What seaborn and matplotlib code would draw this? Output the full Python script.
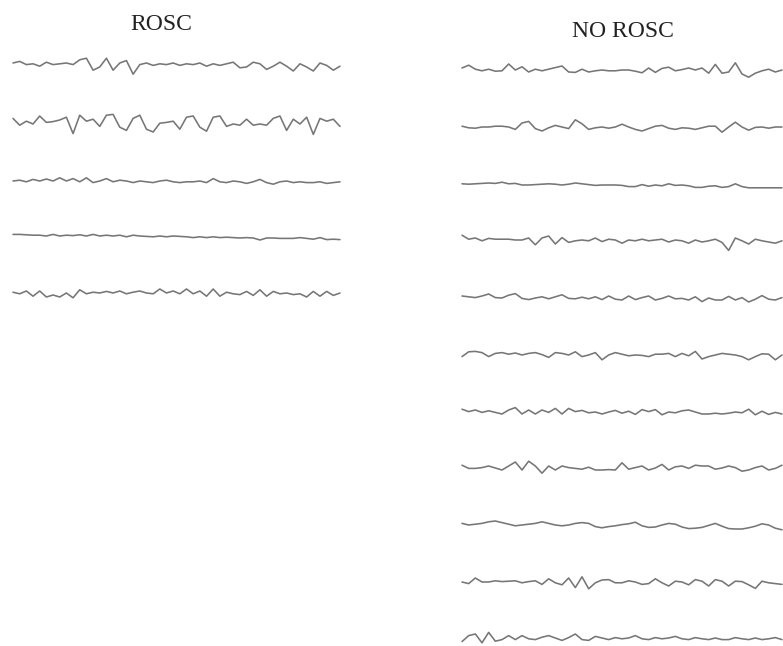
import numpy as np
import pandas as pd
import matplotlib
matplotlib.use("Agg")
import matplotlib.pyplot as plt
import seaborn as sns

rosc_1 = [5, 9, 1, 3, -3, 7, 1, 3, 5, 1, 13, 17, -13, -5, 17, -13, 5, 11, -23, 1, 5, -1, 3, 1, 5,
          -1, 3, 1, 5, -3, 3, -1, 3, 7, -7, -5, 7, 3, -11, -3, 7, -3, -15, 3, -5, -15, 5, -1, -13, -3]
rosc_2 = [14, -3, 7, 0, 20, 4, 6, 10, 17, -24, 22, 7, 12, -6, 22, 24, -8, -16, 14, 22, -13, -20, 2, 4, 7,
          -13, 17, 20, -8, -18, 17, 20, -6, 0, -3, 12, -3, 0, -3, 14, 20, -16, 12, 0, 17, -26, 14, 7, 12, -6]
rosc_3 = [0, 2, -2, 4, 0, 5, 0, 8, 0, 6, -2, 8, -4, 0, 6, -2, 2, 0, -4, 0, -2, -4, 0, 2, -2,
          -4, -2, -2, 0, -4, 6, -2, -4, 0, -2, -6, -2, 4, -4, -8, -2, 0, -4, -2, -4, -4, -2, -6, -4, -2]
rosc_4 = [4, 4, 3, 2, 2, 0, 4, 0, 2, 1, 3, 0, 4, 0, 2, 0, 2, -2, 2, 0, -1, -2, 0, -2, 0,
          -1, -2, -4, -2, -4, -2, -4, -3, -4, -5, -4, -5, -10, -5, -5, -6, -6, -6, -4, -6, -8, -4, -9, -8, -9]
rosc_5 = [2, -2, 5, -8, 5, -10, -5, -10, 0, -12, 8, -2, 2, 0, 4, 0, 5, -2, 2, 5, 0, -2, 10, 0, 5,
          -2, 10, -2, 5, -8, 10, -8, 2, -2, -4, 4, -6, 8, -8, 4, -2, 0, -4, -2, -10, 4, -8, 4, -6, 0]

norosc_1 = [5, 12, 2, -2, 2, -3, -2, 15, 0, 8, -5, 2, -2, 2, 6, 10, -5, -6, 2, -5, -2, 0, -2, -2, 0,
            0, -3, -7, 5, -6, 4, 7, -2, 1, 5, 0, 5, -8, 14, -8, -5, 18, -10, -18, -8, -2, 2, -5, 0]
norosc_2 = [2, -2, -3, 0, 0, 2, 2, 0, -6, 10, 14, -4, -10, -2, 4, 0, -4, 18, 8, -6, -2, 0, -3, 0, 7,
            0, -6, -10, -4, 2, 4, -3, -6, -2, -3, -6, -2, 2, 2, -13, 0, 12, 0, -8, -1, 0, -3, 0, 0]
norosc_3 = [3, 2, 3, 4, 5, 4, 7, 3, 4, 0, 0, 1, 2, 3, 2, 0, 2, 5, 3, 1, -1, 0, 0, 0, -1,
            -4, -4, 1, -3, 0, -2, 3, -1, 0, -2, -6, -6, -3, -2, -6, -4, 3, -4, -7, -7, -7, -7, -7, -7]
norosc_4 = [12, 2, 5, -2, 4, 2, 2, 2, 0, 0, 5, -12, 5, 10, -10, 6, -6, -2, 0, -2, 5, -4, 2, 0, -8,
            0, -2, 2, -2, 0, 2, -5, 0, -2, -8, 0, -5, -2, 2, -6, -26, 5, -2, -10, 2, -2, -5, -8, -2]
norosc_5 = [5, 3, 1, 5, 10, 1, 0, 7, 11, -1, -4, 0, 3, -2, 3, 8, -1, -2, 2, -2, 3, -4, 5, -3, -5,
            5, -4, 1, 5, -5, -1, 5, -2, -1, -5, 3, -9, 0, -5, -5, 4, -5, 1, -10, -3, 6, -3, -5, 1]
norosc_6 = [-4, 8, 9, 6, -4, 4, 6, 2, 5, 0, 4, 6, 1, -6, 6, 4, 0, 8, -4, 0, 6, -12, 0, 6, 2,
            -2, 0, -1, -4, 2, 2, 4, -4, 4, -2, 9, -10, -4, 0, 4, 2, 0, -4, -12, -4, 3, 2, -12, 0]
norosc_7 = [7, 1, 5, -1, 3, -1, -5, 5, 11, -5, 5, -5, 5, -1, 9, -5, 9, 1, 4, -2, 0, -5, 0, 4, -3,
            2, -6, 6, 1, 6, -7, 0, -2, 3, 5, 0, -5, -5, -3, -5, -3, 0, -2, 7, -7, 2, -6, -1, -5]
norosc_8 = [7, -1, -1, 1, 5, 0, -5, 5, 15, -5, 17, 5, -13, 5, -5, 5, 1, -1, -3, 2, -5, -5, -4, -5, 13,
            -3, 1, 5, -5, 0, 9, -5, 3, 5, -1, 7, 5, 5, -3, 0, 5, 1, -8, -5, 1, 5, -5, -1, 7]
norosc_9 = [4, 0, 2, 4, 8, 10, 6, 2, -2, 0, 2, 4, 8, 4, 0, -2, 0, 4, 6, 4, -4, -7, -4, -2, 1,
            3, 7, -2, -6, -5, 0, 4, 2, -5, -9, -8, -6, -1, 4, -3, -9, -10, -10, -7, -3, 3, 0, -8, -12]
norosc_10 = [0, -4, 10, 0, 0, 3, 1, 2, 3, -2, 1, 3, -6, 8, -2, -7, 10, -14, 13, -17, -2, 5, 6, -2, -2,
             3, 0, -6, -4, 8, -2, -10, 2, 0, -7, 6, 2, -10, 6, 2, -10, 2, 1, -7, -16, 2, -2, -4, -6]
norosc_11 = [-9, 6, 10, -12, 14, -8, -4, 6, -4, 6, -2, -4, 2, 6, 0, -6, 1, 10, -4, -6, 4, 0, -4, 1, -2,
             0, 6, -2, -4, 1, -2, 0, 4, -2, -4, 1, -2, -4, 0, -4, -4, 1, -2, -4, 0, -4, -2, 1, -4]

rosc = [rosc_1, rosc_2, rosc_3, rosc_4, rosc_5]
norosc = [norosc_1, norosc_2, norosc_3, norosc_4, norosc_5, norosc_6,
          norosc_7, norosc_8, norosc_9, norosc_10, norosc_11]

# layout in pixels of the 783x646 canvas
rosc_base = [65, 124, 181, 236, 293]
norosc_base = [70, 127, 185, 240, 298, 355, 412, 468, 525, 582, 638]
scale = 0.4

rows = []
for i, (vals, b) in enumerate(zip(rosc, rosc_base)):
    xs = np.linspace(13, 340, len(vals))
    for x, v in zip(xs, vals):
        rows.append(("R%d" % i, x, b - v * scale))
for i, (vals, b) in enumerate(zip(norosc, norosc_base)):
    xs = np.linspace(462, 782, len(vals))
    for x, v in zip(xs, vals):
        rows.append(("N%d" % i, x, b - v * scale))
df = pd.DataFrame(rows, columns=["trace", "x", "y"])

sns.set_style("white")
plt.rcParams['font.family'] = ['Liberation Serif', 'DejaVu Serif']

fig = plt.figure(figsize=(7.83, 6.46), dpi=100)
ax = fig.add_axes([0, 0, 1, 1])
n = df["trace"].nunique()
sns.lineplot(data=df, x="x", y="y", hue="trace", palette=["#767676"] * n,
             estimator=None, legend=False, linewidth=1.15, ax=ax)
ax.set_xlim(0, 783)
ax.set_ylim(646, 0)
ax.axis("off")

ax.text(161, 30, "ROSC", ha="center", va="baseline", fontsize=17, color="#222222")
ax.text(623, 37, "NO ROSC", ha="center", va="baseline", fontsize=17, color="#222222")

fig.savefig("out.png", dpi=100)
